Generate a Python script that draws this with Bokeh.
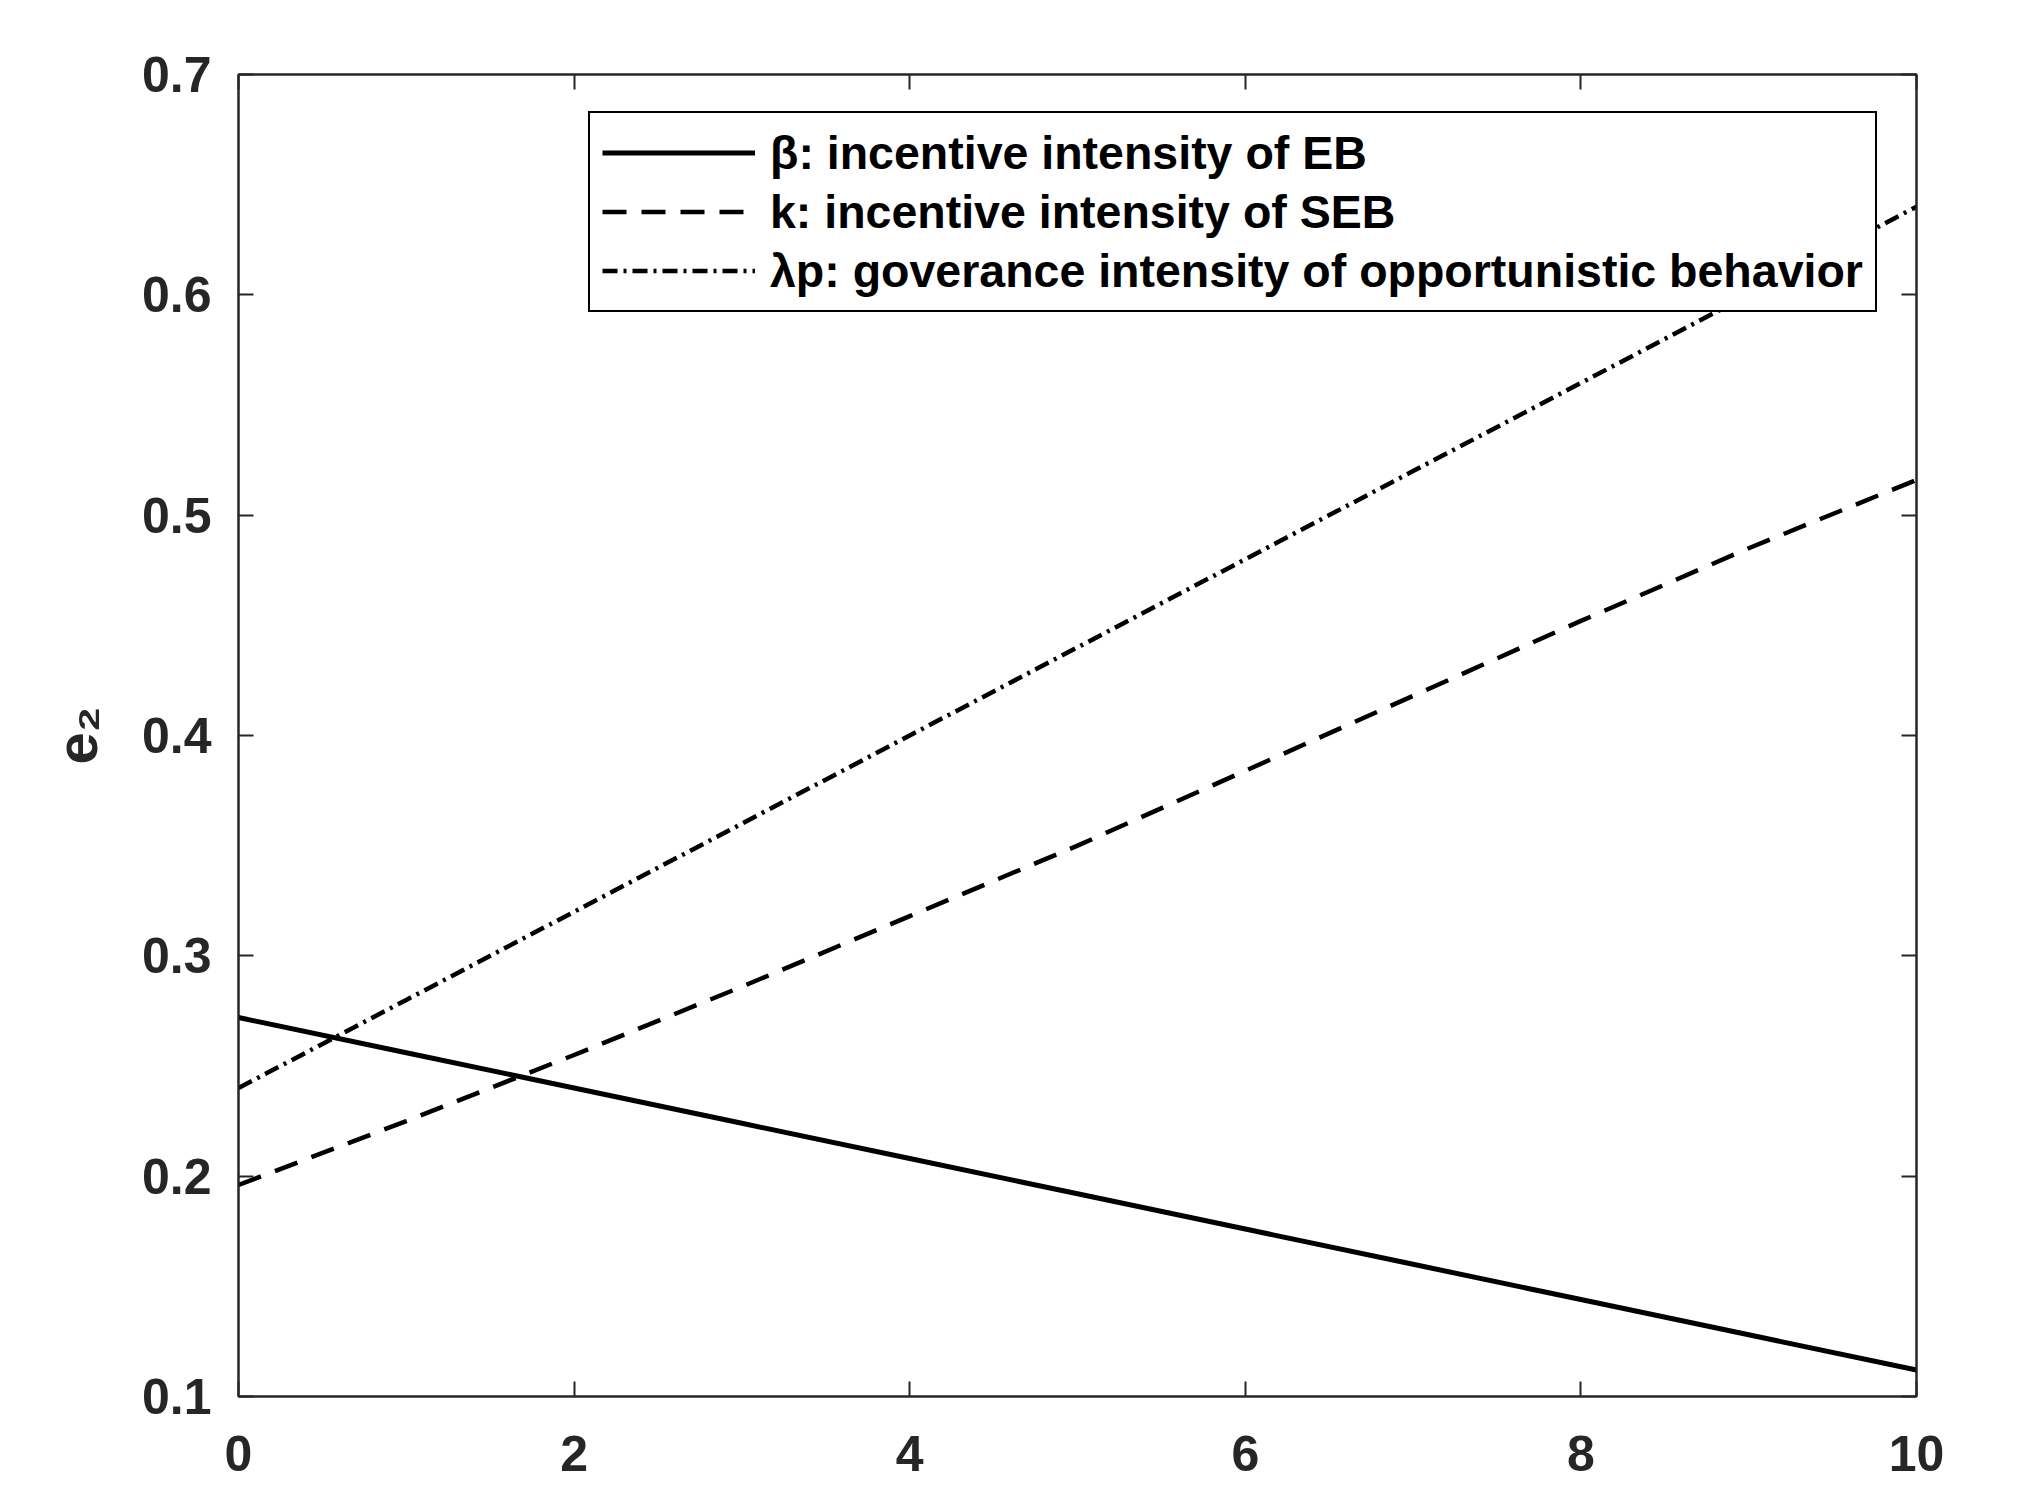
from bokeh.plotting import figure
from bokeh.models import Range1d, LinearAxis, Legend, LegendItem, FixedTicker
from bokeh.embed import file_html
from bokeh.resources import INLINE

# data
x_vals = [0, 1, 2, 3, 4, 5, 6, 7, 8, 9, 10]
beta_vals = [0.272, 0.256, 0.240, 0.224, 0.208, 0.192, 0.176, 0.160, 0.144, 0.128, 0.112]
k_vals = [0.196, 0.225, 0.255, 0.286, 0.318, 0.350, 0.384, 0.418, 0.452, 0.485, 0.516]
lp_vals = [0.240, 0.280, 0.320, 0.360, 0.400, 0.440, 0.480, 0.520, 0.560, 0.600, 0.640]
x_ticks = [0, 2, 4, 6, 8, 10]
y_ticks = [0.1, 0.2, 0.3, 0.4, 0.5, 0.6, 0.7]
labels = ["β: incentive intensity of EB",
          "k: incentive intensity of SEB",
          "λp: goverance intensity of opportunistic behavior"]
y_label = "e₂"

FONT = "Liberation Sans"
AX = "#262626"

p = figure(width=2000, height=1490, output_backend="svg", toolbar_location=None,
           x_range=Range1d(0, 10), y_range=Range1d(0.1, 0.7),
           min_border_left=238, min_border_top=74, min_border_right=84, min_border_bottom=94)
p.background_fill_color = "white"
p.border_fill_color = "white"
p.grid.visible = False
p.outline_line_color = AX
p.outline_line_width = 2
p.outline_line_alpha = 1.0

r1 = p.line(x_vals, beta_vals, line_color="black", line_width=5)
r2 = p.line(x_vals, k_vals, line_color="black", line_width=4.5, line_dash="24 15")
r3 = p.line(x_vals, lp_vals, line_color="black", line_width=4.5, line_dash="15 6 3 6")

def style_axis(ax, show_labels=True):
    ax.axis_line_color = AX
    ax.axis_line_width = 2
    ax.major_tick_line_color = AX
    ax.major_tick_line_width = 2
    ax.major_tick_in = 15
    ax.major_tick_out = 0
    ax.minor_tick_line_color = None
    if show_labels:
        ax.major_label_text_font = FONT
        ax.major_label_text_font_style = "bold"
        ax.major_label_text_font_size = "50px"
        ax.major_label_text_color = AX
    else:
        ax.major_label_text_color = None
        ax.major_label_text_font_size = "0px"
        ax.major_label_standoff = 0

xa = p.xaxis[0]
ya = p.yaxis[0]
xa.ticker = FixedTicker(ticks=x_ticks)
ya.ticker = FixedTicker(ticks=y_ticks)
style_axis(xa)
style_axis(ya)
xa.major_label_standoff = 39
ya.major_label_standoff = 27
ya.axis_label = y_label
ya.axis_label_text_font = FONT
ya.axis_label_text_font_style = "bold"
ya.axis_label_text_font_size = "58px"
ya.axis_label_text_color = AX
ya.axis_label_standoff = 30

top = LinearAxis(ticker=FixedTicker(ticks=x_ticks))
right = LinearAxis(ticker=FixedTicker(ticks=y_ticks))
style_axis(top, show_labels=False)
style_axis(right, show_labels=False)
p.add_layout(top, "above")
p.add_layout(right, "right")

legend = Legend(items=[LegendItem(label=labels[0], renderers=[r1]),
                       LegendItem(label=labels[1], renderers=[r2]),
                       LegendItem(label=labels[2], renderers=[r3])],
                location=(350, 1084))
legend.label_text_font = FONT
legend.label_text_font_style = "bold"
legend.label_text_font_size = "46.5px"
legend.label_text_color = "black"
legend.glyph_width = 153
legend.glyph_height = 55
legend.label_height = 55
legend.label_standoff = 15
legend.spacing = 4
legend.padding = 12
legend.margin = 0
legend.border_line_color = "black"
legend.border_line_width = 2
legend.border_line_alpha = 1.0
legend.background_fill_color = "white"
legend.background_fill_alpha = 1.0
p.add_layout(legend, "center")

open("out.html", "w").write(file_html(p, INLINE))
